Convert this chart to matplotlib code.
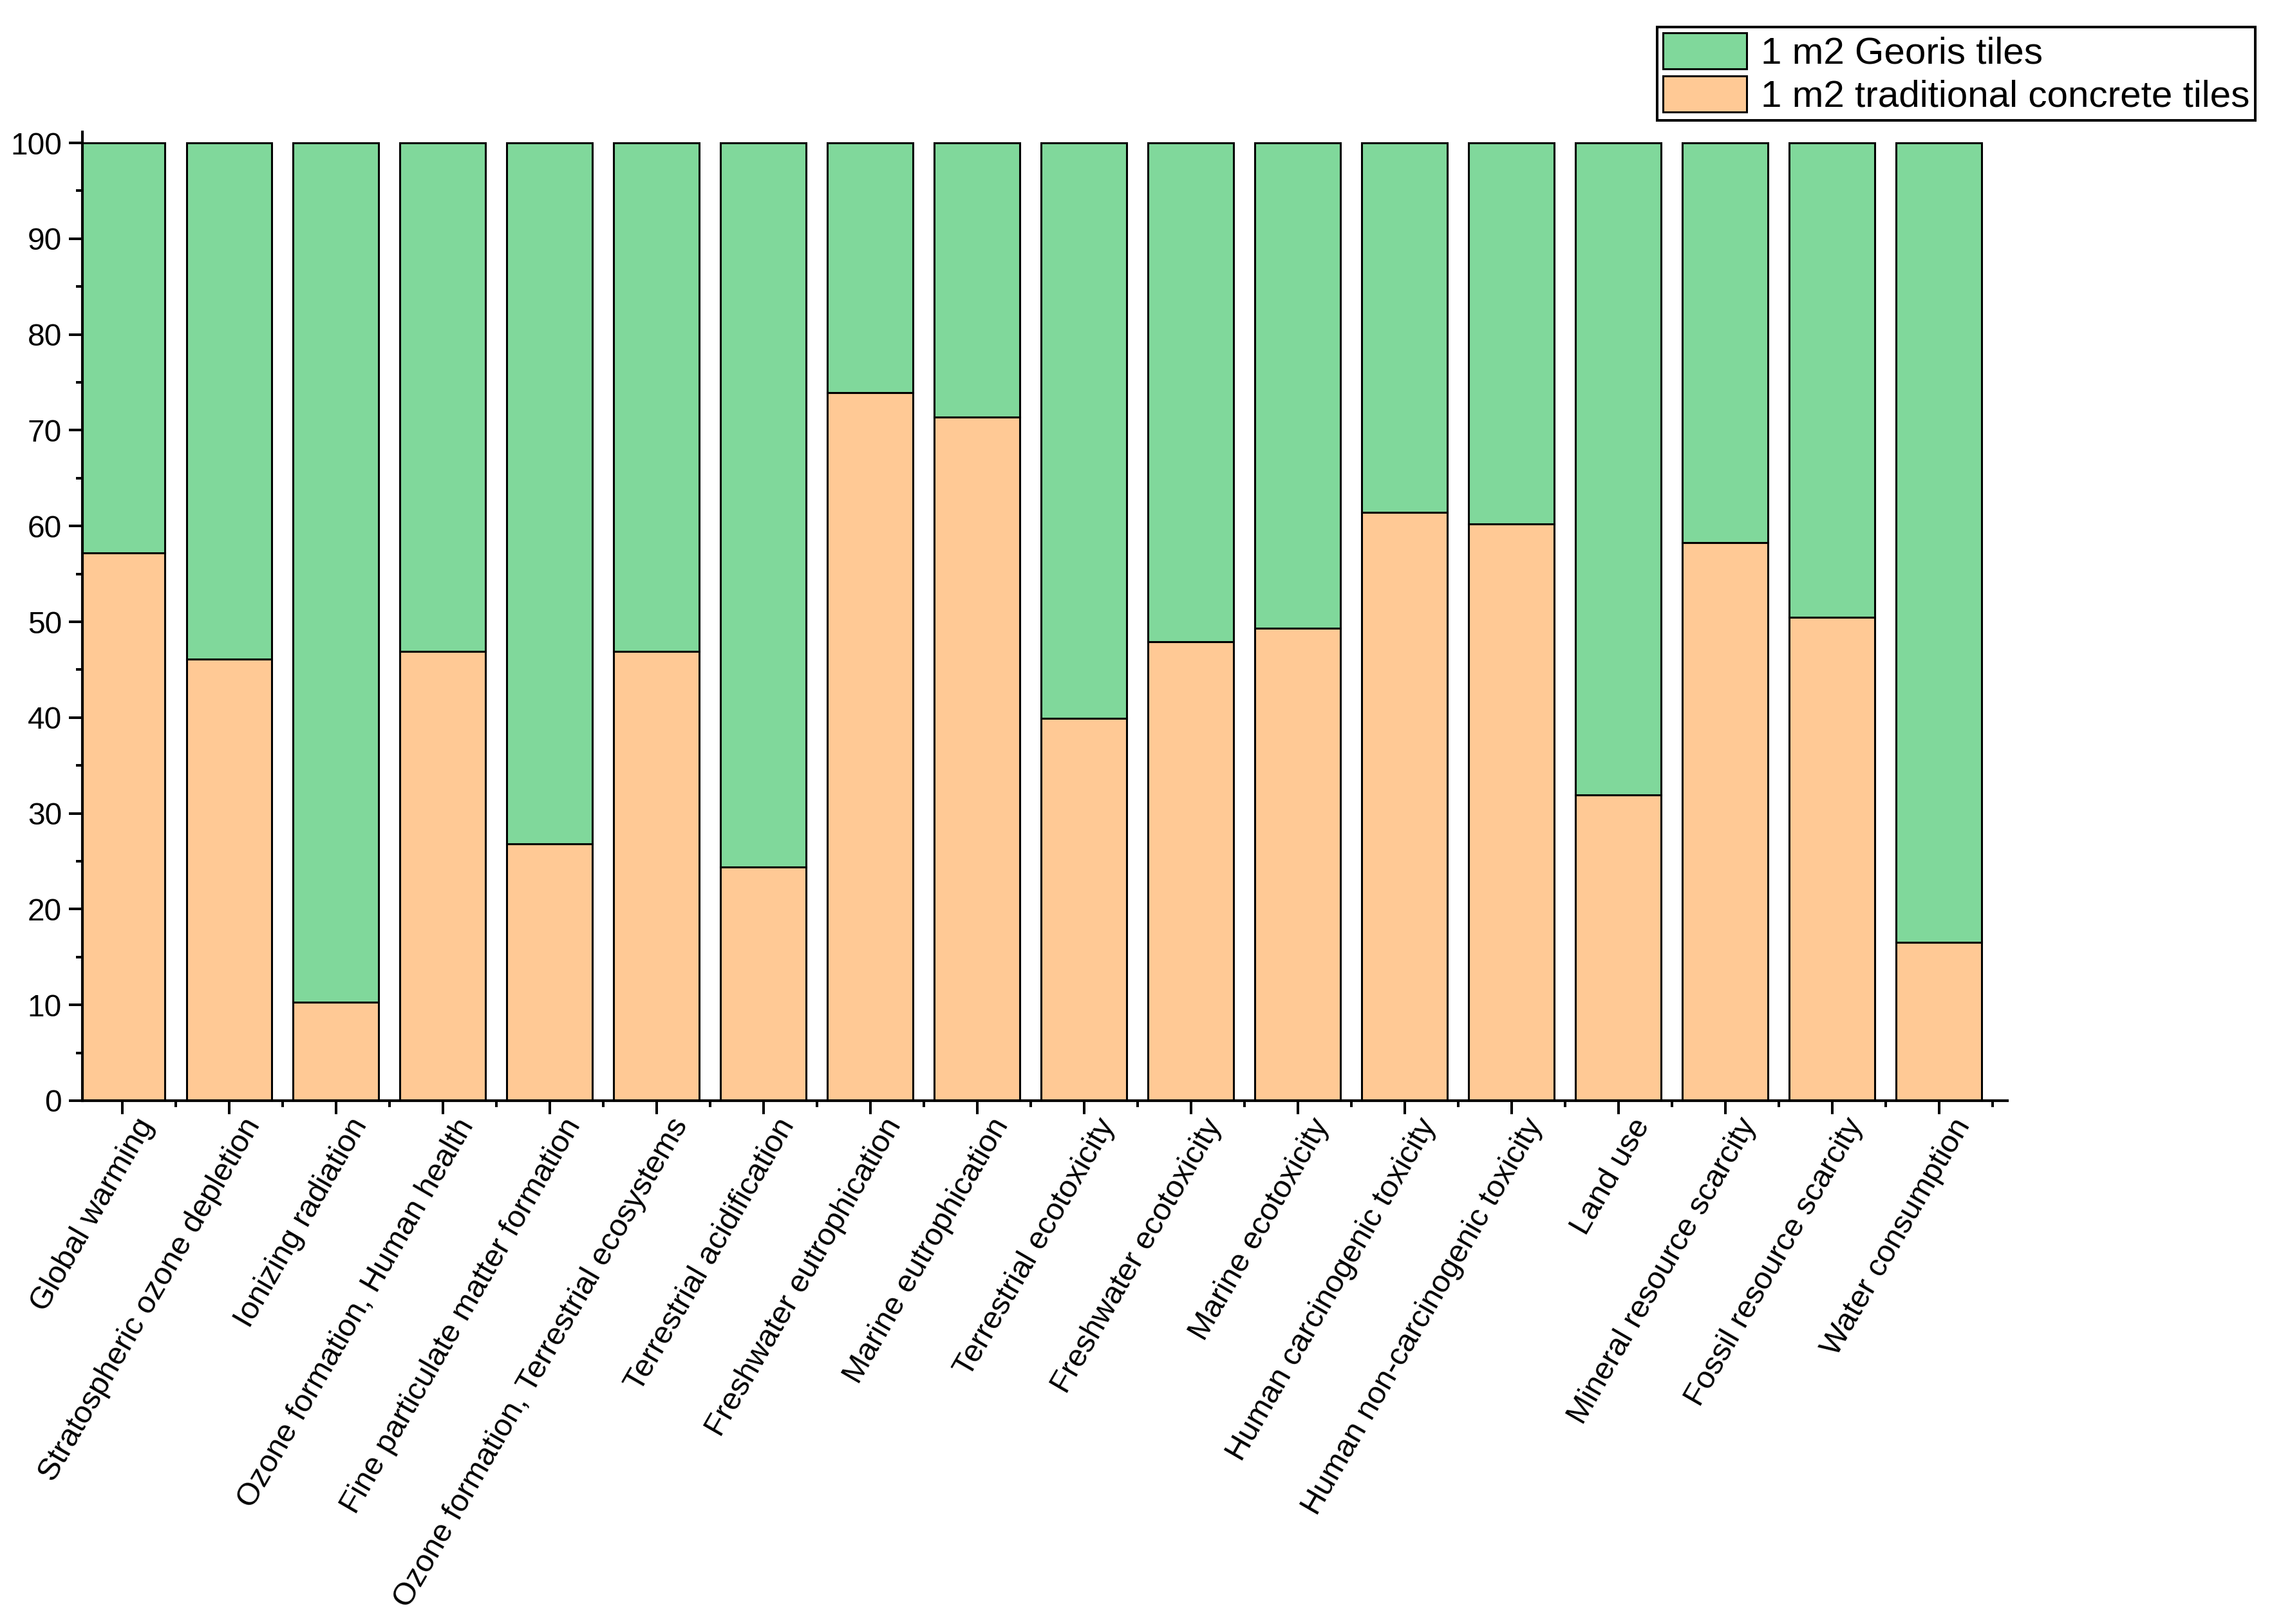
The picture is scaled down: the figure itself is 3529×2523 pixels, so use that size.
import numpy as np
import matplotlib
matplotlib.use('Agg')
import matplotlib.pyplot as plt
from matplotlib.ticker import MultipleLocator
from matplotlib.transforms import ScaledTranslation

# categories (impact categories) and the share of each product, in %
categories = [
    'Global warming',
    'Stratospheric ozone depletion',
    'Ionizing radiation',
    'Ozone formation, Human health',
    'Fine particulate matter formation',
    'Ozone formation, Terrestrial ecosystems',
    'Terrestrial acidification',
    'Freshwater eutrophication',
    'Marine eutrophication',
    'Terrestrial ecotoxicity',
    'Freshwater ecotoxicity',
    'Marine ecotoxicity',
    'Human carcinogenic toxicity',
    'Human non-carcinogenic toxicity',
    'Land use',
    'Mineral resource scarcity',
    'Fossil resource scarcity',
    'Water consumption',
]
traditional = [57.2, 46.1, 10.3, 46.9, 26.8, 46.9, 24.4, 73.9, 71.4,
               39.9, 47.9, 49.3, 61.4, 60.2, 31.9, 58.3, 50.5, 16.5]
georis = [100 - v for v in traditional]

label_traditional = '1 m2 traditional concrete tiles'
label_georis = '1 m2 Georis tiles'

color_traditional = '#FFC995'
color_georis = '#80D89B'

plt.rcParams['font.family'] = ['Liberation Sans', 'DejaVu Sans']

fig = plt.figure(figsize=(35.29, 25.23), dpi=100)
ax = fig.add_axes([0.03627, 0.32224, 0.84727, 0.59651])

x = np.arange(len(categories))
bar_trad = ax.bar(x, traditional, width=0.8, color=color_traditional,
                  edgecolor='black', linewidth=2.2, label=label_traditional)
bar_geo = ax.bar(x, georis, width=0.8, bottom=traditional, color=color_georis,
                 edgecolor='black', linewidth=2.2, label=label_georis)

ax.set_xlim(-0.373, 17.64)
ax.set_ylim(0, 101.15)

# axes look: only left and bottom spines, ticks out
for side in ['top', 'right']:
    ax.spines[side].set_visible(False)
for side in ['left', 'bottom']:
    ax.spines[side].set_linewidth(3.0)

ax.yaxis.set_major_locator(MultipleLocator(10))
ax.yaxis.set_minor_locator(MultipleLocator(5))
ax.xaxis.set_minor_locator(MultipleLocator(1, offset=0.5))
ax.set_xticks(x)
ax.tick_params(axis='both', which='major', direction='out', length=15, width=2.9)
ax.tick_params(axis='both', which='minor', direction='out', length=7.5, width=2.9)
ax.tick_params(axis='y', which='major', labelsize=34.5, pad=8)
ax.tick_params(axis='x', which='major', pad=7.5)

ax.set_xticklabels(categories, rotation=60, rotation_mode='anchor',
                   ha='right', va='center', fontsize=35)
# move the slanted labels a bit to the right of their ticks
shift = ScaledTranslation(0.38, 0, fig.dpi_scale_trans)
for lab in ax.get_xticklabels():
    lab.set_transform(lab.get_transform() + shift)

leg = ax.legend(handles=[bar_geo, bar_trad], loc='upper right',
                bbox_to_anchor=(3503 / 3529, 1 - 42 / 2523),
                bbox_transform=fig.transFigure, borderaxespad=0,
                fontsize=42, fancybox=False, framealpha=1, edgecolor='black',
                handlelength=2.23, handleheight=1.115, labelspacing=0.12,
                handletextpad=0.38, borderpad=0.15)
leg.get_frame().set_linewidth(2.9)

fig.savefig('out.png', dpi=100)
